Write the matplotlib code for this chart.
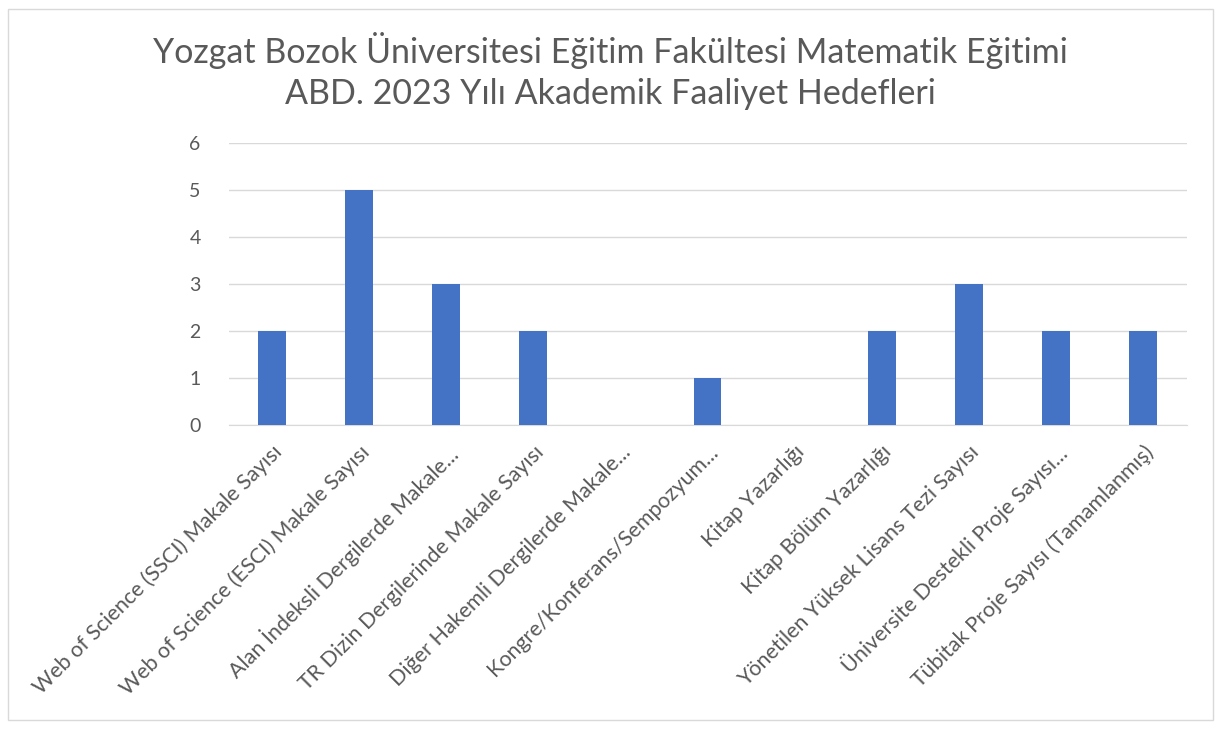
import matplotlib.pyplot as plt
import matplotlib.patches as mpatches
import numpy as np

categories = ['Web of Science (SSCI) Makale Sayısı',
              'Web of Science (ESCI) Makale Sayısı',
              'Alan İndeksli Dergilerde Makale...',
              'TR Dizin Dergilerinde Makale Sayısı',
              'Diğer Hakemli Dergilerde Makale...',
              'Kongre/Konferans/Sempozyum...',
              'Kitap Yazarlığı',
              'Kitap Bölüm Yazarlığı',
              'Yönetilen Yüksek Lisans Tezi Sayısı',
              'Üniversite Destekli Proje Sayısı...',
              'Tübitak Proje Sayısı (Tamamlanmış)']
values = [2, 5, 3, 2, 0, 1, 0, 2, 3, 2, 2]
yticks = [0, 1, 2, 3, 4, 5, 6]

plt.rcParams['font.family'] = ['Lato', 'DejaVu Sans']
txt = '#595959'

fig = plt.figure(figsize=(12.21, 7.29), dpi=100)
ax = fig.add_axes([228.5/1221, 1-425/729, (1186.5-228.5)/1221, (425-143)/729])

x = np.arange(len(categories))
ax.bar(x, values, width=0.32, color='#4472C4', zorder=3)
ax.set_xlim(-0.5, len(categories)-0.5)
ax.set_ylim(0, 6)
ax.set_yticks(yticks)
ax.set_yticklabels([str(v) for v in yticks], fontsize=14, color=txt)
ax.grid(axis='y', color='#d9d9d9', linewidth=1, zorder=0)
for s in ['top', 'right', 'left']:
    ax.spines[s].set_visible(False)
ax.spines['bottom'].set_color('#d9d9d9')
ax.tick_params(axis='y', length=0, pad=20)
ax.tick_params(axis='x', length=0, pad=12)
ax.set_xticks(x)
ax.set_xticklabels(categories, rotation=45, ha='right', va='top',
                   rotation_mode='anchor', fontsize=15.5, color=txt)

fig.text(0.5, 1-71/729, 'Yozgat Bozok Üniversitesi Eğitim Fakültesi Matematik Eğitimi\nABD. 2023 Yılı Akademik Faaliyet Hedefleri',
         ha='center', va='center', fontsize=24.5, color=txt, linespacing=1.35)

fig.patches.append(mpatches.Rectangle((8/1221, 9/729), 1205/1221, 711/729,
                                      transform=fig.transFigure, fill=False,
                                      edgecolor='#d9d9d9', linewidth=1))

fig.savefig('out.png', dpi=100)
